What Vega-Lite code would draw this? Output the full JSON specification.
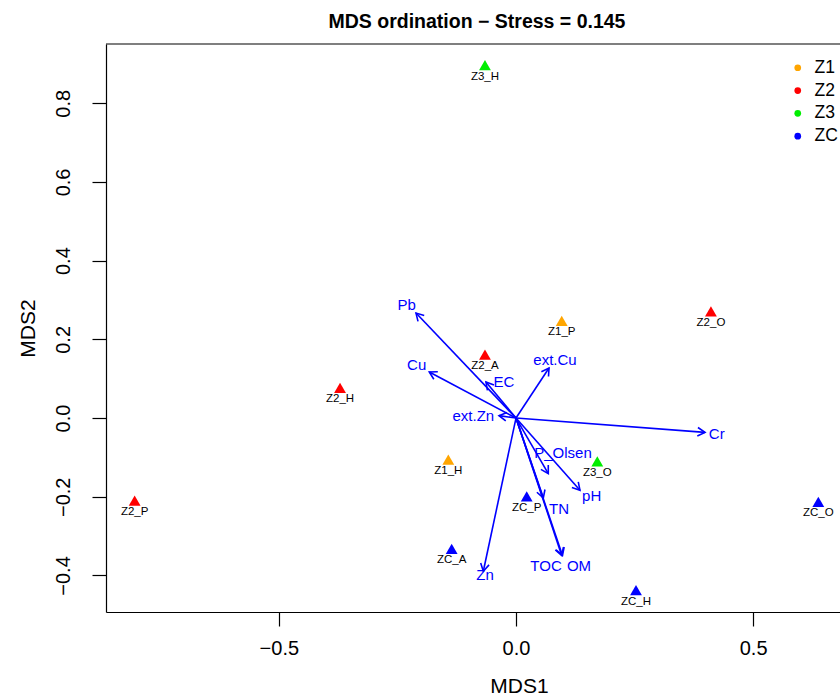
{
  "$schema": "https://vega.github.io/schema/vega-lite/v6.json",
  "width": 734,
  "height": 568,
  "autosize": "none",
  "padding": {"left": 106, "top": 44, "right": 0, "bottom": 87},
  "title": {"text": "MDS ordination − Stress = 0.145", "fontSize": 19.5, "fontWeight": "bold", "font": "Liberation Sans", "color": "black", "anchor": "middle", "baseline": "alphabetic", "offset": 17, "dx": 4, "dy": 21},
  "datasets": {
    "sites": [
      {"site": "Z1_H", "group": "Z1", "x": -0.1427, "y": -0.1056},
      {"site": "Z1_P", "group": "Z1", "x": 0.0964, "y": 0.247},
      {"site": "Z2_A", "group": "Z2", "x": -0.0654, "y": 0.161},
      {"site": "Z2_H", "group": "Z2", "x": -0.371, "y": 0.0764},
      {"site": "Z2_O", "group": "Z2", "x": 0.411, "y": 0.271},
      {"site": "Z2_P", "group": "Z2", "x": -0.804, "y": -0.2097},
      {"site": "Z3_H", "group": "Z3", "x": -0.0654, "y": 0.897},
      {"site": "Z3_O", "group": "Z3", "x": 0.1714, "y": -0.1099},
      {"site": "ZC_A", "group": "ZC", "x": -0.1356, "y": -0.3323},
      {"site": "ZC_H", "group": "ZC", "x": 0.253, "y": -0.4374},
      {"site": "ZC_O", "group": "ZC", "x": 0.6374, "y": -0.213},
      {"site": "ZC_P", "group": "ZC", "x": 0.0226, "y": -0.1988}
    ],
    "vectors": [
      {"lab": "Pb", "ax": -0.2108, "ay": 0.2668, "lx": -0.2303, "ly": 0.2879},
      {"lab": "Cu", "ax": -0.1828, "ay": 0.117, "lx": -0.2094, "ly": 0.1356},
      {"lab": "EC", "ax": -0.0633, "ay": 0.0916, "lx": -0.0253, "ly": 0.0906},
      {"lab": "ext.Cu", "ax": 0.0696, "ay": 0.1272, "lx": 0.0822, "ly": 0.1483},
      {"lab": "ext.Zn", "ax": -0.0358, "ay": 0.0061, "lx": -0.09, "ly": 0.0061},
      {"lab": "Cr", "ax": 0.3985, "ay": -0.0363, "lx": 0.4232, "ly": -0.0396},
      {"lab": "P_Olsen", "ax": 0.0681, "ay": -0.1412, "lx": 0.0991, "ly": -0.0878},
      {"lab": "pH", "ax": 0.1349, "ay": -0.1835, "lx": 0.1596, "ly": -0.1988},
      {"lab": "TN", "ax": 0.0576, "ay": -0.2028, "lx": 0.0907, "ly": -0.23},
      {"lab": "TOC", "ax": 0.0964, "ay": -0.3493, "lx": 0.0633, "ly": -0.3765},
      {"lab": "OM", "ax": 0.098, "ay": -0.349, "lx": 0.1329, "ly": -0.3765},
      {"lab": "Zn", "ax": -0.0689, "ay": -0.3892, "lx": -0.0654, "ly": -0.3976}
    ]
  },
  "layer": [
    {
      "data": {"values": [{"edge": "top"}]},
      "mark": {"type": "rule", "color": "black", "strokeWidth": 1.2},
      "encoding": {"y": {"datum": 0.9505, "type": "quantitative"}}
    },
    {
      "data": {"name": "vectors"},
      "mark": {"type": "rule", "color": "blue", "strokeWidth": 1.6},
      "encoding": {
        "x": {"field": "ax", "type": "quantitative", "title": "MDS1"},
        "y": {"field": "ay", "type": "quantitative", "title": "MDS2"},
        "x2": {"datum": 0},
        "y2": {"datum": 0}
      }
    },
    {
      "data": {"name": "vectors"},
      "transform": [{"calculate": "atan2(-datum.ay*393.5, datum.ax*474.3)*180/PI", "as": "ang"}],
      "mark": {"type": "point", "shape": "M-1,-0.577L0,0L-1,0.577", "filled": false, "stroke": "blue", "strokeWidth": 1.6, "size": 219, "opacity": 1},
      "encoding": {
        "x": {"field": "ax", "type": "quantitative", "title": "MDS1"},
        "y": {"field": "ay", "type": "quantitative", "title": "MDS2"},
        "angle": {"field": "ang", "type": "quantitative", "scale": null}
      }
    },
    {
      "data": {"name": "vectors"},
      "mark": {"type": "text", "color": "blue", "fontSize": 15, "font": "Liberation Sans", "baseline": "middle", "align": "center"},
      "encoding": {
        "x": {"field": "lx", "type": "quantitative", "title": "MDS1"},
        "y": {"field": "ly", "type": "quantitative", "title": "MDS2"},
        "text": {"field": "lab", "type": "nominal"}
      }
    },
    {
      "data": {"name": "sites"},
      "mark": {"type": "point", "shape": "triangle-up", "filled": true, "size": 140, "opacity": 1},
      "encoding": {
        "x": {"field": "x", "type": "quantitative", "title": "MDS1", "scale": {"domain": [-0.8644, 0.6831], "nice": false, "zero": false}, "axis": {"values": [-0.5, 0, 0.5], "format": ".1f"}},
        "y": {"field": "y", "type": "quantitative", "title": "MDS2", "scale": {"domain": [-0.4928, 0.9505], "nice": false, "zero": false}, "axis": {"values": [-0.4, -0.2, 0, 0.2, 0.4, 0.6, 0.8], "format": ".1f"}},
        "color": {
          "field": "group", "type": "nominal",
          "scale": {"domain": ["Z1", "Z2", "Z3", "ZC"], "range": ["#FFA500", "#FF0000", "#00EE00", "#0000FF"]},
          "legend": {"orient": "none", "legendX": 683, "legendY": 15, "title": null, "symbolType": "circle", "symbolSize": 45, "labelFontSize": 17.5, "labelFont": "Liberation Sans", "labelColor": "black", "rowPadding": 3.8, "labelOffset": 8, "padding": 0, "symbolStrokeWidth": 0}
        }
      }
    },
    {
      "data": {"name": "sites"},
      "mark": {"type": "text", "fontSize": 11.5, "font": "Liberation Sans", "color": "black", "dy": 11.5, "baseline": "middle", "align": "center"},
      "encoding": {
        "x": {"field": "x", "type": "quantitative", "title": "MDS1"},
        "y": {"field": "y", "type": "quantitative", "title": "MDS2"},
        "text": {"field": "site", "type": "nominal"}
      }
    }
  ],
  "config": {
    "view": {"stroke": null},
    "font": "Liberation Sans",
    "axis": {"grid": false, "domainColor": "black", "tickColor": "black", "labelColor": "black", "titleColor": "black", "labelFont": "Liberation Sans", "titleFont": "Liberation Sans", "labelFontSize": 20, "titleFontSize": 21, "titleFontWeight": "normal", "tickSize": 14, "domainWidth": 1.2, "tickWidth": 1.2},
    "axisX": {"labelPadding": 12, "titlePadding": 17, "titleX": 413},
    "axisY": {"labelAngle": -90, "labelAlign": "center", "labelBaseline": "bottom", "labelPadding": 19, "titlePadding": 15}
  }
}
